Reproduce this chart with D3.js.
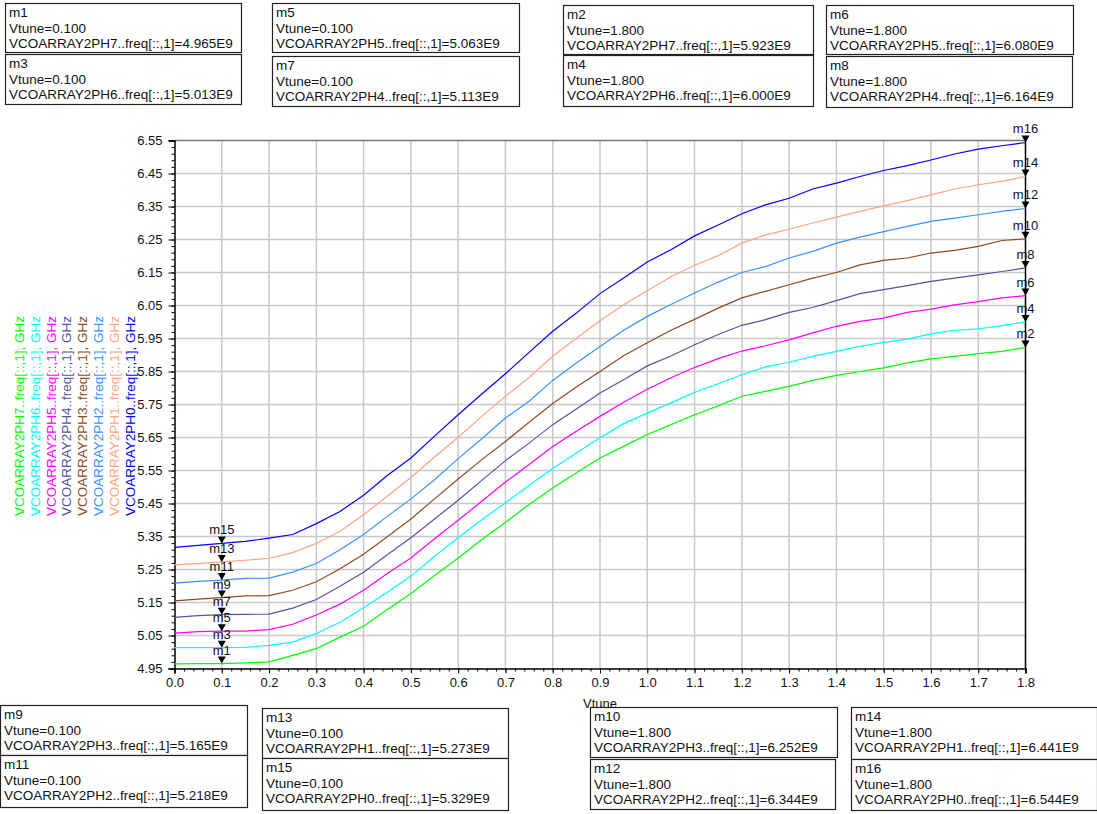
<!DOCTYPE html>
<html>
<head>
<meta charset="utf-8">
<script src="https://cdn.jsdelivr.net/npm/d3@7"></script>
<style>
  body { margin: 0; background: #fff; }
  svg { display: block; font-family: "Liberation Sans", Arial, sans-serif; }
</style>
</head>
<body>
<svg id="chart" width="1097" height="814"></svg>
<script>
// Tuning voltage sweep (V)
const vtune = [0.00,0.05,0.10,0.15,0.20,0.25,0.30,0.35,0.40,0.45,0.50,0.55,0.60,0.65,0.70,0.75,0.80,0.85,0.90,
               0.95,1.00,1.05,1.10,1.15,1.20,1.25,1.30,1.35,1.40,1.45,1.50,1.55,1.60,1.65,1.70,1.75,1.80];

// Oscillation frequency (GHz) for each capacitor-array setting
const freqPH0 = [5.317,5.323,5.329,5.335,5.345,5.356,5.389,5.426,5.475,5.535,5.588,5.654,5.719,5.782,5.843,5.908,5.972,6.027,6.086,
                 6.133,6.182,6.219,6.261,6.294,6.328,6.355,6.375,6.403,6.421,6.441,6.459,6.474,6.491,6.509,6.524,6.534,6.544];
const freqPH1 = [5.264,5.268,5.273,5.278,5.284,5.301,5.329,5.366,5.416,5.472,5.529,5.591,5.651,5.714,5.775,5.832,5.896,5.951,6.004,
                 6.052,6.095,6.137,6.172,6.201,6.239,6.264,6.281,6.300,6.318,6.335,6.352,6.368,6.385,6.403,6.416,6.426,6.441];
const freqPH2 = [5.209,5.214,5.218,5.223,5.224,5.242,5.268,5.310,5.356,5.411,5.464,5.522,5.586,5.646,5.709,5.760,5.823,5.876,5.926,
                 5.975,6.017,6.053,6.088,6.121,6.150,6.168,6.194,6.214,6.239,6.257,6.274,6.290,6.305,6.315,6.325,6.335,6.344];
const freqPH3 = [5.155,5.160,5.165,5.170,5.171,5.187,5.213,5.252,5.296,5.349,5.403,5.464,5.524,5.583,5.638,5.696,5.753,5.803,5.850,
                 5.898,5.937,5.975,6.008,6.042,6.073,6.093,6.113,6.133,6.150,6.173,6.187,6.194,6.209,6.217,6.229,6.247,6.252];
const freqPH4 = [5.105,5.110,5.113,5.114,5.115,5.133,5.159,5.199,5.242,5.295,5.346,5.403,5.460,5.520,5.580,5.633,5.689,5.736,5.785,
                 5.825,5.867,5.897,5.931,5.962,5.990,6.007,6.029,6.044,6.065,6.086,6.098,6.110,6.123,6.133,6.143,6.153,6.164];
const freqPH5 = [5.057,5.062,5.063,5.063,5.068,5.084,5.112,5.145,5.187,5.238,5.285,5.343,5.399,5.457,5.515,5.568,5.623,5.669,5.714,
                 5.757,5.796,5.831,5.862,5.889,5.912,5.928,5.946,5.967,5.987,6.002,6.012,6.029,6.039,6.052,6.062,6.073,6.080];
const freqPH6 = [5.013,5.013,5.013,5.014,5.020,5.030,5.056,5.090,5.134,5.181,5.230,5.290,5.346,5.401,5.452,5.505,5.556,5.603,5.649,
                 5.692,5.724,5.755,5.787,5.813,5.840,5.864,5.878,5.896,5.911,5.926,5.938,5.948,5.964,5.975,5.979,5.989,6.000];
const freqPH7 = [4.964,4.965,4.965,4.967,4.970,4.990,5.010,5.045,5.078,5.129,5.177,5.232,5.285,5.341,5.393,5.447,5.497,5.543,5.588,
                 5.623,5.659,5.689,5.719,5.746,5.775,5.790,5.805,5.823,5.838,5.850,5.861,5.876,5.888,5.896,5.904,5.911,5.923];

// Series in legend order (left to right)
const seriesNames = ["VCOARRAY2PH7","VCOARRAY2PH6","VCOARRAY2PH5","VCOARRAY2PH4",
                     "VCOARRAY2PH3","VCOARRAY2PH2","VCOARRAY2PH1","VCOARRAY2PH0"];
const seriesValues = [freqPH7, freqPH6, freqPH5, freqPH4, freqPH3, freqPH2, freqPH1, freqPH0];

// Axis ticks
const xTicks = [0.0,0.1,0.2,0.3,0.4,0.5,0.6,0.7,0.8,0.9,1.0,1.1,1.2,1.3,1.4,1.5,1.6,1.7,1.8];
const yTicks = [4.95,5.05,5.15,5.25,5.35,5.45,5.55,5.65,5.75,5.85,5.95,6.05,6.15,6.25,6.35,6.45,6.55];

// Markers: name, trace, Vtune position and read-out frequency (GHz)
const markerNames  = ["m1","m2","m3","m4","m5","m6","m7","m8","m9","m10","m11","m12","m13","m14","m15","m16"];
const markerSeries = ["VCOARRAY2PH7","VCOARRAY2PH7","VCOARRAY2PH6","VCOARRAY2PH6","VCOARRAY2PH5","VCOARRAY2PH5",
                      "VCOARRAY2PH4","VCOARRAY2PH4","VCOARRAY2PH3","VCOARRAY2PH3","VCOARRAY2PH2","VCOARRAY2PH2",
                      "VCOARRAY2PH1","VCOARRAY2PH1","VCOARRAY2PH0","VCOARRAY2PH0"];
const markerVtune  = [0.1,1.8,0.1,1.8,0.1,1.8,0.1,1.8,0.1,1.8,0.1,1.8,0.1,1.8,0.1,1.8];
const markerFreq   = [4.965,5.923,5.013,6.000,5.063,6.080,5.113,6.164,5.165,6.252,5.218,6.344,5.273,6.441,5.329,6.544];

// ---- styling & layout ----
const traceColor = {
  VCOARRAY2PH7: "#00ff00", VCOARRAY2PH6: "#00ffff", VCOARRAY2PH5: "#ff00ff", VCOARRAY2PH4: "#5353a3",
  VCOARRAY2PH3: "#8f4a1c", VCOARRAY2PH2: "#3893ff", VCOARRAY2PH1: "#ffa382", VCOARRAY2PH0: "#0000ff"
};
// read-out box rectangles [x, y, w, h]
const boxLayout = {
  m1: [5,3,236,49],     m3: [5,54,236,50],    m5: [272,3,247,49],   m7: [272,56,247,50],
  m2: [563,5,250,49],   m4: [563,55,250,51],  m6: [826,5,247,49],   m8: [826,56,246,51],
  m9: [0,705,247,50],   m11: [0,755,247,52],  m13: [262,708,246,50], m15: [262,758,246,52],
  m10: [590,707,247,50], m12: [590,759,245,50], m14: [851,707,246,52], m16: [851,759,246,51]
};

const svg = d3.select("#chart");
const x = d3.scaleLinear().domain([0, 1.8]).range([174.5, 1025.5]);
const y = d3.scaleLinear().domain([4.95, 6.55]).range([668.5, 140.5]);

// grid
const grid = svg.append("g").attr("stroke", "#c9c9c9").attr("stroke-width", 1.5);
grid.selectAll("line.vx").data(xTicks.filter(t => t > 0.05 && t < 1.75)).join("line")
  .attr("x1", d => x(d)).attr("x2", d => x(d)).attr("y1", y(6.55)).attr("y2", y(4.95));
grid.selectAll("line.hy").data(yTicks.filter(t => t > 4.96 && t < 6.54)).join("line")
  .attr("y1", d => y(d)).attr("y2", d => y(d)).attr("x1", x(0)).attr("x2", x(1.8));

// frame: top border grey, right border black
svg.append("line").attr("x1", x(0)).attr("x2", x(1.8)).attr("y1", y(6.55)).attr("y2", y(6.55))
  .attr("stroke", "#777").attr("stroke-width", 1.5);
svg.append("line").attr("x1", x(1.8)).attr("x2", x(1.8)).attr("y1", y(6.55)).attr("y2", y(4.95))
  .attr("stroke", "#000").attr("stroke-width", 1.5);

// minor tick positions
const yMinor = d3.range(0, 81).map(i => 4.95 + i * 0.02);
const xMinor = d3.range(0, 91).map(i => i * 0.02);

// y axis
const yAxisG = svg.append("g").attr("transform", `translate(${x(0)},0)`);
yAxisG.call(d3.axisLeft(y).tickValues(yMinor).tickSize(3).tickFormat(""));
yAxisG.call(g => g.selectAll(".domain").remove());
const yMajor = svg.append("g").attr("transform", `translate(${x(0)},0)`)
  .call(d3.axisLeft(y).tickValues(yTicks).tickSize(6).tickPadding(6).tickFormat(d3.format(".2f")));
yMajor.selectAll("text").attr("font-size", 13).attr("fill", "#111").attr("font-family", "Liberation Sans, Arial, sans-serif");
yMajor.select(".domain").attr("stroke", "#000").attr("stroke-width", 1.5);

// x axis
const xAxisG = svg.append("g").attr("transform", `translate(0,${y(4.95)})`);
xAxisG.call(d3.axisBottom(x).tickValues(xMinor).tickSize(3).tickFormat(""));
xAxisG.call(g => g.selectAll(".domain").remove());
const xMajor = svg.append("g").attr("transform", `translate(0,${y(4.95)})`)
  .call(d3.axisBottom(x).tickValues(xTicks).tickSize(5).tickPadding(4).tickFormat(d3.format(".1f")));
xMajor.selectAll("text").attr("font-size", 13).attr("fill", "#111").attr("font-family", "Liberation Sans, Arial, sans-serif");
xMajor.select(".domain").attr("stroke", "#000").attr("stroke-width", 1.5);

svg.append("text").attr("x", (x(0) + x(1.8)) / 2).attr("y", 708).attr("text-anchor", "middle")
  .attr("font-size", 13).attr("fill", "#111").text("Vtune");

// traces
const line = d3.line().x((d, i) => x(vtune[i])).y(d => y(d));
svg.append("g").selectAll("path").data(seriesNames).join("path")
  .attr("d", (n, i) => line(seriesValues[i]))
  .attr("fill", "none").attr("stroke", n => traceColor[n]).attr("stroke-width", 1.2);

// rotated legend
svg.append("g").selectAll("text").data(seriesNames).join("text")
  .attr("transform", (n, i) => `translate(${24 + i * 15.8},516) rotate(-90)`)
  .attr("font-size", 13.5).attr("fill", n => traceColor[n])
  .text(n => `${n}..freq[::,1], GHz`);

// markers on traces
const mk = svg.append("g");
markerNames.forEach((m, i) => {
  const px = x(markerVtune[i]), py = y(markerFreq[i]);
  mk.append("path").attr("d", `M${px - 4},${py - 7}L${px + 4},${py - 7}L${px},${py}Z`).attr("fill", "#000");
  mk.append("text").attr("x", px).attr("y", py - 9).attr("text-anchor", "middle")
    .attr("font-size", 13).attr("fill", "#111").text(m);
});

// read-out boxes
const boxes = svg.append("g");
markerNames.forEach((m, i) => {
  const [bx, by, bw, bh] = boxLayout[m];
  const g = boxes.append("g");
  g.append("rect").attr("x", bx + 0.5).attr("y", by + 0.5).attr("width", bw).attr("height", bh)
    .attr("fill", "#fff").attr("stroke", "#222").attr("stroke-width", 1.2);
  const lines = [m, `Vtune=${markerVtune[i].toFixed(3)}`, `${markerSeries[i]}..freq[::,1]=${markerFreq[i].toFixed(3)}E9`];
  lines.forEach((t, k) => {
    g.append("text").attr("x", bx + 4).attr("y", by + 14 + k * 15.5)
      .attr("font-size", 13.5).attr("fill", "#111").text(t);
  });
});
</script>
</body>
</html>
